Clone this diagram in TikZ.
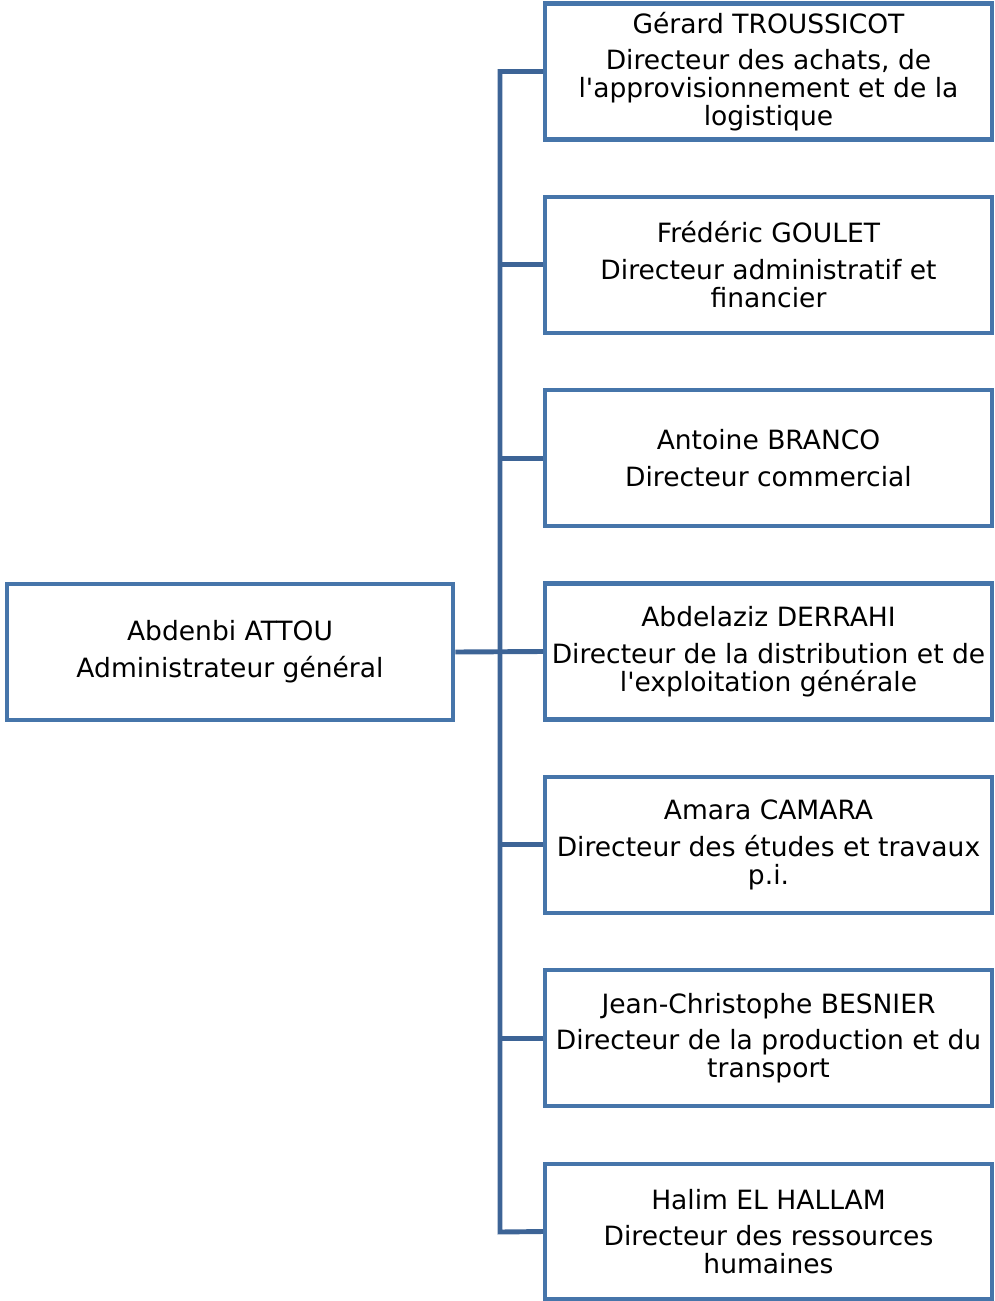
\documentclass[tikz,border=0pt]{standalone}
\usepackage{fontspec}
\setmainfont{DejaVu Sans}[Ligatures=TeXOff]
\usepackage{tikz}

\definecolor{boxblue}{HTML}{4675AA}
\definecolor{linkblue}{HTML}{3D6496}

\begin{document}
\begin{tikzpicture}[x=0.02cm,y=-0.02cm]
	\useasboundingbox (0,0) rectangle (994,1301);
	\tikzset{person/.style={draw=boxblue,line width=2.3pt,fill=white,
	            minimum width=8.94cm,minimum height=2.72cm,inner sep=0pt,
	            align=center,font=\fontsize{15.1}{15.9}\selectfont}}

	% liaisons
	\coordinate (top) at (500,72);
	\coordinate (bot) at (500,1232);

	\begin{scope}[every node/.style={person}]
	    \node (ag) at (230,652) {Abdenbi ATTOU\\[5pt]Administrateur général};
	    \node (d1) at (768.5,71.5) {Gérard TROUSSICOT\\[5pt]Directeur des achats, de\\l'approvisionnement et de la\\logistique};
	    \node (d2) at (768.5,264.8) {Frédéric GOULET\\[5pt]Directeur administratif et\\financier};
	    \node (d3) at (768.5,458.2) {Antoine BRANCO\\[5pt]Directeur commercial};
	    \node (d4) at (768.5,651.5) {Abdelaziz DERRAHI\\[5pt]Directeur de la distribution et de\\l'exploitation générale};
	    \node (d5) at (768.5,844.8) {Amara CAMARA\\[5pt]Directeur des études et travaux\\p.i.};
	    \node (d6) at (768.5,1038.2) {Jean-Christophe BESNIER\\[5pt]Directeur de la production et du\\transport};
	    \node (d7) at (768.5,1231.5) {Halim EL HALLAM\\[5pt]Directeur des ressources\\humaines};
	\end{scope}

	\begin{scope}[every path/.style={draw=linkblue,line width=2.8pt}]
	    \draw (d1.west) -- (d1.west -| top) -- (bot) -- (d7.west);
	    \draw (ag.east) -- (d4.west);
	    \draw (d2.west) -- (d2.west -| top);
	    \draw (d3.west) -- (d3.west -| top);
	    \draw (d5.west) -- (d5.west -| top);
	    \draw (d6.west) -- (d6.west -| top);
	\end{scope}
\end{tikzpicture}
\end{document}
